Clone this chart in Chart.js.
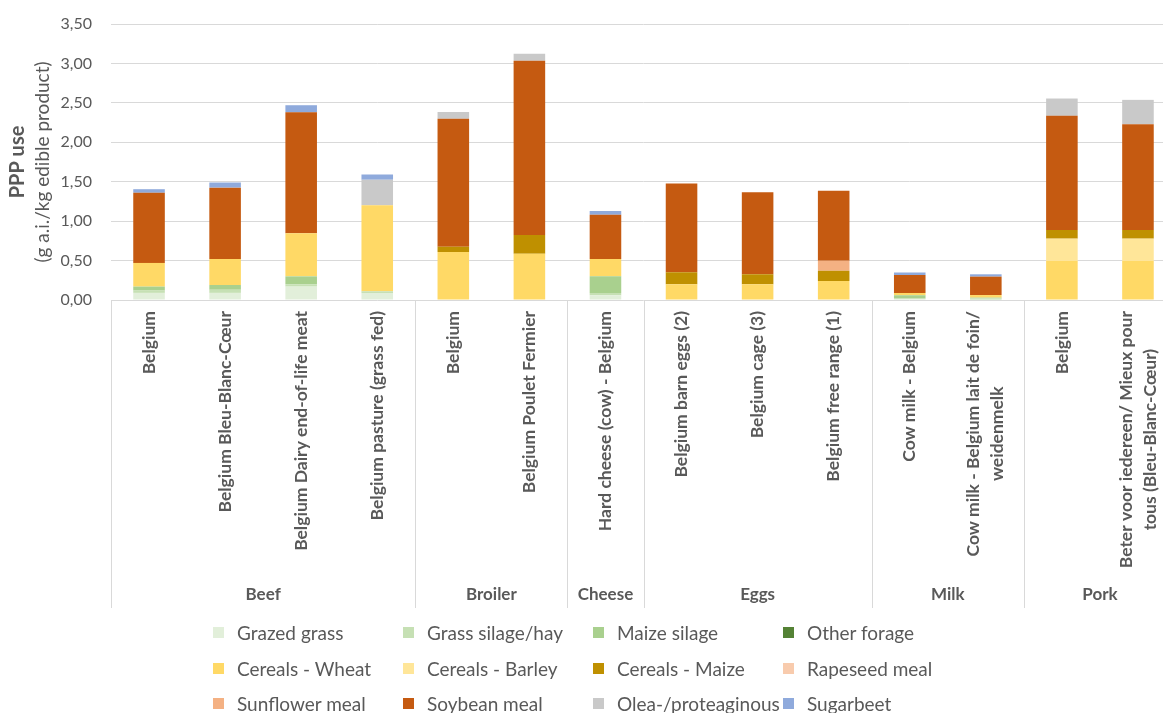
<!DOCTYPE html>
<html>
<head>
<meta charset="utf-8">
<script src="https://cdn.jsdelivr.net/npm/chart.js@4.4.1/dist/chart.umd.min.js"></script>
<style>
  html, body { margin: 0; padding: 0; background: #fff; overflow: hidden; }
  #wrap { position: relative; width: 1176px; height: 713px; }
  #legend {
    position: absolute; left: 213px; top: 615px;
    display: grid; grid-template-columns: repeat(4, 190px); grid-auto-rows: 35.5px;
    font-family: Lato, sans-serif; font-size: 19px; color: #595959;
  }
  #legend div { display: flex; align-items: center; white-space: nowrap; }
  #legend span.box { width: 11px; height: 11px; margin-right: 13px; flex: none; }
</style>
</head>
<body>
<div id="wrap">
  <canvas id="chart" width="1176" height="713"></canvas>
  <div id="legend"></div>
</div>
<script>
// categories (sub labels, multi-line as arrays) and their groups
const labels = [
  'Belgium', 'Belgium Bleu-Blanc-Cœur', 'Belgium Dairy end-of-life meat', 'Belgium pasture (grass fed)',
  'Belgium', 'Belgium Poulet Fermier',
  'Hard cheese (cow) - Belgium',
  'Belgium barn eggs (2)', 'Belgium cage (3)', 'Belgium free range (1)',
  'Cow milk - Belgium', ['Cow milk - Belgium lait de foin/', 'weidenmelk'],
  'Belgium', ['Beter voor iedereen/ Mieux pour', 'tous (Bleu-Blanc-Cœur)']
];
const groups = ['Beef', 'Broiler', 'Cheese', 'Eggs', 'Milk', 'Pork'];
const groupSizes = [4, 2, 1, 3, 2, 2];
const yTicks = [0, 0.5, 1, 1.5, 2, 2.5, 3, 3.5];

// PPP use per feed component (g a.i./kg edible product)
const grazedGrass   = [0.09, 0.09, 0.17, 0.09, 0, 0, 0.06, 0, 0, 0, 0.01, 0.005, 0, 0];
const grassSilage   = [0.03, 0.04, 0.03, 0.02, 0, 0, 0.03, 0, 0, 0, 0.01, 0.015, 0, 0];
const maizeSilage   = [0.05, 0.06, 0.10, 0, 0, 0, 0.21, 0, 0, 0, 0.04, 0.01, 0, 0];
const otherForage   = [0, 0, 0, 0, 0, 0, 0, 0, 0, 0, 0, 0, 0, 0];
const cerealsWheat  = [0.30, 0.33, 0.545, 1.09, 0.61, 0.585, 0.22, 0.20, 0.20, 0.24, 0.03, 0.033, 0.495, 0.495];
const cerealsBarley = [0, 0, 0, 0, 0, 0, 0, 0, 0, 0, 0, 0, 0.283, 0.283];
const cerealsMaize  = [0, 0, 0, 0, 0.064, 0.24, 0, 0.152, 0.127, 0.13, 0, 0, 0.11, 0.11];
const rapeseedMeal  = [0, 0, 0, 0, 0, 0, 0, 0, 0, 0, 0, 0, 0, 0];
const sunflowerMeal = [0, 0, 0, 0, 0, 0, 0, 0, 0, 0.127, 0, 0, 0, 0];
const soybeanMeal   = [0.89, 0.905, 1.535, 0, 1.624, 2.208, 0.56, 1.125, 1.04, 0.888, 0.228, 0.233, 1.447, 1.342];
const oleaProtea    = [0, 0, 0, 0.326, 0.085, 0.089, 0, 0, 0, 0, 0, 0, 0.22, 0.308];
const sugarbeet     = [0.045, 0.065, 0.09, 0.067, 0, 0, 0.05, 0, 0, 0, 0.03, 0.03, 0, 0];

const series = [
  { label: 'Grazed grass', data: grazedGrass, color: '#e2efda' },
  { label: 'Grass silage/hay', data: grassSilage, color: '#c6e0b4' },
  { label: 'Maize silage', data: maizeSilage, color: '#a9d08e' },
  { label: 'Other forage', data: otherForage, color: '#548235' },
  { label: 'Cereals - Wheat', data: cerealsWheat, color: '#ffd966' },
  { label: 'Cereals - Barley', data: cerealsBarley, color: '#ffe699' },
  { label: 'Cereals - Maize', data: cerealsMaize, color: '#bf9000' },
  { label: 'Rapeseed meal', data: rapeseedMeal, color: '#f8cbad' },
  { label: 'Sunflower meal', data: sunflowerMeal, color: '#f4b183' },
  { label: 'Soybean meal', data: soybeanMeal, color: '#c55a11' },
  { label: 'Olea-/proteaginous', data: oleaProtea, color: '#c9c9c9' },
  { label: 'Sugarbeet', data: sugarbeet, color: '#8faadc' }
];

const textColor = '#595959';
const gridColor = '#d9d9d9';

// category labels, group row, separators and y title
const axisDecor = {
  id: 'axisDecor',
  afterDraw(chart) {
    const ctx = chart.ctx;
    const x = chart.scales.x;
    const area = chart.chartArea;
    const bottom = 608;
    ctx.save();

    // separators
    ctx.strokeStyle = gridColor;
    ctx.lineWidth = 1;
    let k = 0;
    const bounds = [0];
    groupSizes.forEach(n => { k += n; bounds.push(k); });
    bounds.forEach(b => {
      const px = Math.round(x.getPixelForValue(b - 0.5)) + 0.5;
      ctx.beginPath();
      ctx.moveTo(px, area.bottom);
      ctx.lineTo(px, bottom);
      ctx.stroke();
    });

    // rotated sub labels
    ctx.fillStyle = textColor;
    ctx.font = 'bold 17.5px Lato';
    ctx.textBaseline = 'middle';
    labels.forEach((lab, i) => {
      const lines = Array.isArray(lab) ? lab : [lab];
      const maxW = Math.max(...lines.map(l => ctx.measureText(l).width));
      const cx = x.getPixelForValue(i);
      ctx.save();
      ctx.translate(cx, 311);
      ctx.rotate(-Math.PI / 2);
      ctx.textAlign = 'center';
      lines.forEach((l, j) => {
        ctx.fillText(l, -maxW / 2, (j - (lines.length - 1) / 2) * 24);
      });
      ctx.restore();
    });

    // group labels
    ctx.textAlign = 'center';
    ctx.font = 'bold 17px Lato';
    groups.forEach((g, gi) => {
      const mid = (x.getPixelForValue(bounds[gi] - 0.5) + x.getPixelForValue(bounds[gi + 1] - 0.5)) / 2;
      ctx.fillText(g, mid, 595);
    });

    // y axis title
    const cy = (area.top + area.bottom) / 2;
    ctx.save();
    ctx.translate(18, cy);
    ctx.rotate(-Math.PI / 2);
    ctx.font = 'bold 20px Lato';
    ctx.fillText('PPP use', 0, 0);
    ctx.font = '19px Lato';
    ctx.fillText('(g a.i./kg edible product)', 0, 25);
    ctx.restore();

    ctx.restore();
  }
};

new Chart(document.getElementById('chart'), {
  type: 'bar',
  data: {
    labels: labels,
    datasets: series.map(s => ({
      label: s.label,
      data: s.data,
      backgroundColor: s.color,
      borderWidth: 0,
      categoryPercentage: 1,
      barPercentage: 0.415
    }))
  },
  options: {
    responsive: false,
    animation: false,
    layout: { padding: { top: 24, left: 0, right: 0, bottom: 413 } },
    plugins: { legend: { display: false }, tooltip: { enabled: false } },
    scales: {
      x: { stacked: true, display: false },
      y: {
        stacked: true,
        min: 0,
        max: 3.5,
        afterFit: s => { s.width = 111; },
        afterBuildTicks: s => { s.ticks = yTicks.map(v => ({ value: v })); },
        border: { display: false },
        grid: { color: gridColor, lineWidth: 1, drawTicks: true, tickLength: 19, tickColor: 'rgba(0,0,0,0)' },
        ticks: {
          padding: 0,
          color: textColor,
          font: { family: 'Lato', size: 16 },
          callback: v => v.toFixed(2).replace('.', ',')
        }
      }
    }
  },
  plugins: [axisDecor]
});

// legend
const legend = document.getElementById('legend');
series.forEach(s => {
  const item = document.createElement('div');
  item.innerHTML = `<span class="box" style="background:${s.color}"></span>${s.label}`;
  legend.appendChild(item);
});
</script>
</body>
</html>
